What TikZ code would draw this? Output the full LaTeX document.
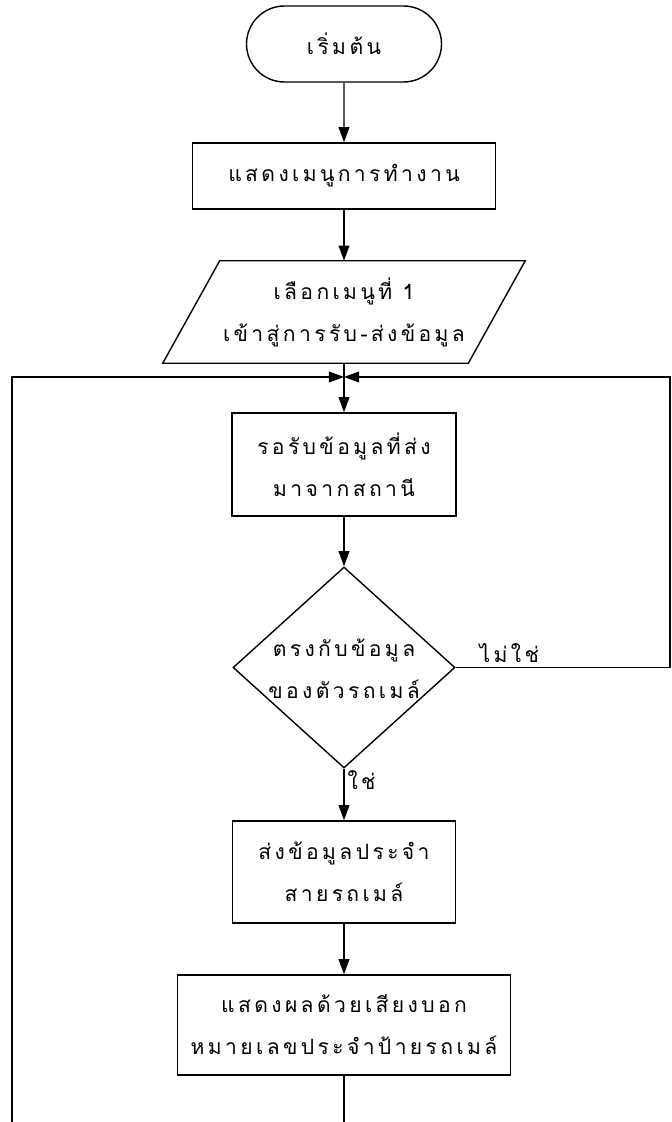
\documentclass[tikz,border=0pt]{standalone}
\usepackage{fontspec}
\newfontfamily\thaifont[Script=Thai,LetterSpace=16]{Loma}
\usetikzlibrary{arrows.meta,shapes.geometric,shapes.misc,calc}
\newlength\px
\setlength\px{0.025cm}

\begin{document}
\begin{tikzpicture}[x=0.025cm,y=-0.025cm,
  every node/.style={font=\thaifont\fontsize{15}{30}\selectfont, align=center, inner sep=0pt},
  box/.style={draw, line width=1pt, rectangle},
  flow/.style={draw, line width=1pt, -{Triangle[length=0.38cm,width=0.27cm]}},
  wire/.style={draw, line width=1pt}]
\useasboundingbox (0,0) rectangle (671,1122);

% main column of the flowchart
\node[draw, line width=1pt, rounded rectangle, minimum width=195\px, minimum height=76\px] (start) at (344,44) {เริ่มต้น};
\node[box, minimum width=303\px, minimum height=66\px] (menu) at (344,176) {แสดงเมนูการทำงาน};
\node[minimum width=305\px, minimum height=102\px] (choose) at (344,312) {เลือกเมนูที่ 1\\เข้าสู่การรับ-ส่งข้อมูล};
\draw[line width=1pt] ($(choose.north west)+(28.5,0)$) -- ($(choose.north east)+(28.5,0)$)
  -- ($(choose.south east)+(-28.5,0)$) -- ($(choose.south west)+(-28.5,0)$) -- cycle;
\node[box, minimum width=224\px, minimum height=103\px] (wait) at (344,464.5) {รอรับข้อมูลที่ส่ง\\มาจากสถานี};
\node[draw, line width=1pt, diamond, minimum width=222\px, minimum height=201\px] (check) at (344,667.5) {};
\node (checktxt) at (344,669) {ตรงกับข้อมูล\\ของตัวรถเมล์};
\node[box, minimum width=223\px, minimum height=102\px] (send) at (344,872) {ส่งข้อมูลประจำ\\สายรถเมล์};
\node[box, minimum width=333\px, minimum height=100\px] (speak) at (344,1025) {แสดงผลด้วยเสียงบอก\\หมายเลขประจำป้ายรถเมล์};

% loop-back frame
\coordinate (join) at (344,377);
\coordinate (lefttop) at (12,377);
\coordinate (leftbot) at (12,1122);
\coordinate (righttop) at (670,377);
\coordinate (rightmid) at (670,667.5);
\coordinate (tail) at (344,1122);

\draw[flow] (start) -- (menu);
\draw[flow] (menu) -- (choose);
\draw[flow] (choose) -- (wait);
\draw[flow] (wait) -- (check);
\draw[flow] (check) -- node[pos=0.22, anchor=west, xshift=2pt] (yes) {ใช่} (send);
\draw[flow] (send) -- (speak);
\draw[wire] (speak) -- (tail);
\draw[flow] (leftbot) -- (lefttop) -- (join);
\draw[flow] (check.east) -- node[pos=0.25, anchor=south, yshift=3pt] (no) {ไม่ใช่} (rightmid) -- (righttop) -- (join);
\end{tikzpicture}
\end{document}
